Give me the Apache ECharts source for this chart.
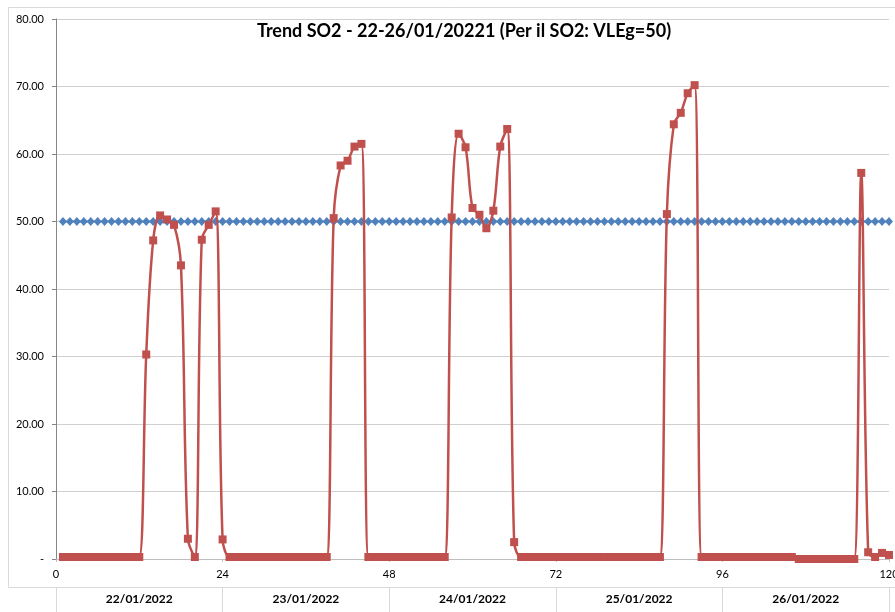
<!DOCTYPE html>
<html>
<head>
<meta charset="utf-8">
<script src="https://cdn.jsdelivr.net/npm/echarts@6/dist/echarts.min.js"></script>
<style>html,body{margin:0;padding:0;background:#fff}#c{width:895px;height:612px}</style>
</head>
<body>
<div id="c"></div>
<script>
var titleText = 'Trend SO2 - 22-26/01/20221 (Per il SO2: VLEg=50)';
var dates = ['22/01/2022', '23/01/2022', '24/01/2022', '25/01/2022', '26/01/2022'];
var xTicks = [0, 24, 48, 72, 96, 120];
var so2 = [
  0.3, 0.3, 0.3, 0.3, 0.3, 0.3, 0.3, 0.3, 0.3, 0.3, 0.3, 0.3,
  30.3, 47.2, 50.9, 50.3, 49.5, 43.5, 3.0, 0.3, 47.3, 49.5, 51.5, 2.9,
  0.3, 0.3, 0.3, 0.3, 0.3, 0.3, 0.3, 0.3, 0.3, 0.3, 0.3, 0.3, 0.3, 0.3, 0.3,
  50.5, 58.3, 59.0, 61.1, 61.5,
  0.3, 0.3, 0.3, 0.3, 0.3, 0.3, 0.3, 0.3, 0.3, 0.3, 0.3, 0.3,
  50.6, 63.0, 61.0, 52.0, 51.0, 49.0, 51.6, 61.1, 63.7, 2.5,
  0.3, 0.3, 0.3, 0.3, 0.3, 0.3, 0.3, 0.3, 0.3, 0.3, 0.3, 0.3, 0.3, 0.3, 0.3, 0.3, 0.3, 0.3, 0.3, 0.3, 0.3,
  51.1, 64.4, 66.1, 69.0, 70.2,
  0.3, 0.3, 0.3, 0.3, 0.3, 0.3, 0.3, 0.3, 0.3, 0.3, 0.3, 0.3, 0.3, 0.3,
  0.0, 0.0, 0.0, 0.0, 0.0, 0.0, 0.0, 0.0, 0.0,
  57.2, 1.0, 0.3, 0.9, 0.6
];
var vleg = [
  50,50,50,50,50,50,50,50,50,50,50,50,50,50,50,50,50,50,50,50,
  50,50,50,50,50,50,50,50,50,50,50,50,50,50,50,50,50,50,50,50,
  50,50,50,50,50,50,50,50,50,50,50,50,50,50,50,50,50,50,50,50,
  50,50,50,50,50,50,50,50,50,50,50,50,50,50,50,50,50,50,50,50,
  50,50,50,50,50,50,50,50,50,50,50,50,50,50,50,50,50,50,50,50,
  50,50,50,50,50,50,50,50,50,50,50,50,50,50,50,50,50,50,50,50
];

function pairs(arr) { return arr.map(function (v, i) { return [i + 1, v]; }); }

var chart = echarts.init(document.getElementById('c'), null, { renderer: 'canvas' });
chart.setOption({
  animation: false,
  backgroundColor: '#ffffff',
  title: {
    text: titleText, left: 459, textAlign: 'center', top: 17,
    textStyle: { fontFamily: 'Lato', fontWeight: 'bold', fontSize: 18, color: '#000' }
  },
  graphic: [{
    type: 'rect', shape: { x: 8.5, y: 7.5, width: 900, height: 580 },
    style: { fill: 'none', stroke: '#d9d9d9', lineWidth: 1 }, silent: true, z: -10
  }],
  grid: { left: 56, right: 6, top: 19, bottom: 53, containLabel: false, outerBoundsMode: 'none' },
  xAxis: [{
    type: 'value', min: 0, max: 120, interval: 24,
    axisLine: { show: true, lineStyle: { color: '#bfbfbf' } },
    axisTick: { show: true, length: 3, lineStyle: { color: '#bfbfbf' } },
    axisLabel: {
      margin: 10, fontSize: 11, color: '#000', fontFamily: 'Lato',
      formatter: function (v) { return xTicks.indexOf(v) >= 0 ? String(v) : ''; }
    },
    splitLine: { show: false }
  }, {
    type: 'category', data: dates, position: 'bottom', offset: 28,
    axisLine: { show: true, lineStyle: { color: '#d9d9d9' } },
    axisTick: { show: true, length: 26, interval: 0, lineStyle: { color: '#d9d9d9' } },
    axisLabel: { margin: 6, fontSize: 12, fontWeight: 'bold', color: '#000', fontFamily: 'Lato', interval: 0 },
    splitLine: { show: false }
  }],
  yAxis: {
    type: 'value', min: 0, max: 80, interval: 10,
    axisLine: { show: true, lineStyle: { color: '#868686' } },
    axisTick: { show: true, length: 4, lineStyle: { color: '#868686' } },
    axisLabel: {
      margin: 12, fontSize: 11, color: '#000', fontFamily: 'Lato',
      formatter: function (v) { return v === 0 ? '-' : v.toFixed(2); }
    },
    splitLine: { show: true, lineStyle: { color: '#d0d0d0', width: 1.2 } }
  },
  series: [{
    name: 'VLEg', type: 'line', xAxisIndex: 0, data: pairs(vleg),
    symbol: 'diamond', symbolSize: [8, 9],
    lineStyle: { color: '#4F81BD', width: 2 },
    itemStyle: { color: '#4F81BD' }, z: 2
  }, {
    name: 'SO2', type: 'line', xAxisIndex: 0, data: pairs(so2),
    smooth: 0.35, symbol: 'rect', symbolSize: 8,
    lineStyle: { color: '#C0504D', width: 2.5 },
    itemStyle: { color: '#C0504D' }, z: 3
  }]
});
</script>
</body>
</html>
